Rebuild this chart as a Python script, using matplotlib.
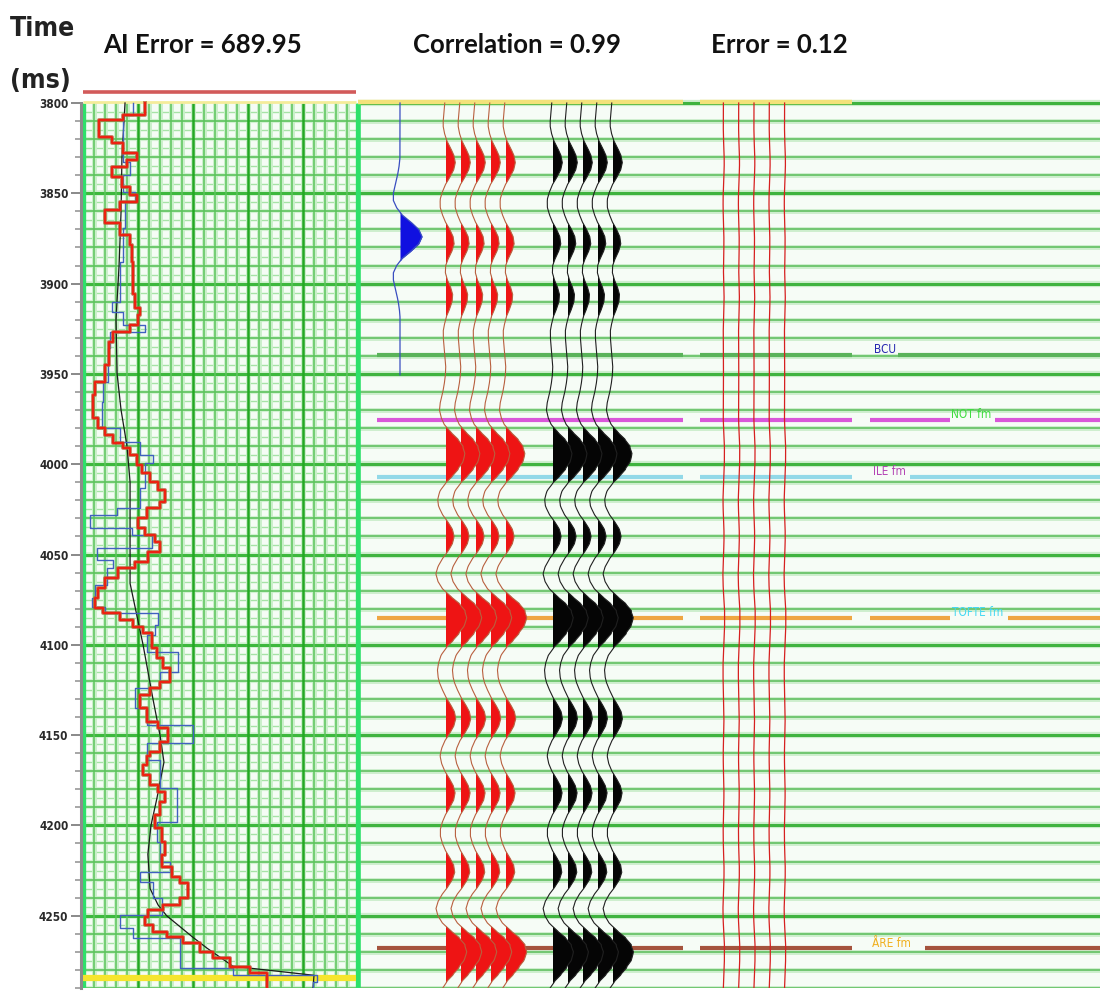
import numpy as np
import matplotlib
matplotlib.use("Agg")
import matplotlib.pyplot as plt
from matplotlib.ticker import FixedLocator, NullFormatter
from matplotlib import font_manager as fm

# ---------------- data ----------------
time_major_ticks = [3800, 3850, 3900, 3950, 4000, 4050, 4100, 4150, 4200, 4250]
header_texts = ["AI Error = 689.95", "Correlation = 0.99", "Error = 0.12"]

# inverted acoustic impedance (red, stepped): step top time (ms), value
ai_red_t = [3800, 3806.6, 3809.4, 3818.6, 3822.3, 3827.9, 3831.6, 3835.3, 3840.8, 3846.3,
            3850.9, 3854.6, 3859.2, 3866.6, 3873.1, 3878.6, 3887.9, 3906, 3913.5, 3917.4,
            3922.9, 3926.6, 3932.2, 3945.1, 3954.3, 3961.7, 3974.6, 3980.1, 3983.8, 3988.4,
            3991.2, 3994.9, 4000.4, 4005, 4009.7, 4014.3, 4020.8, 4024.4, 4030, 4035.5,
            4039.2, 4042.9, 4048.4, 4054, 4057.6, 4063.2, 4068.7, 4074.3, 4079.8, 4082.6,
            4086.3, 4089.9, 4093.6, 4101.9, 4107.5, 4113, 4120.4, 4124.1, 4127.8, 4135.2,
            4142.6, 4146.3, 4153.6, 4159.2, 4161.5, 4166.4, 4172.1, 4177.6, 4181.3, 4186.9,
            4194.2, 4201.6, 4209, 4216.4, 4222.9, 4228.4, 4232.1, 4240.4, 4244.1, 4246.8,
            4250.6, 4255.1, 4258.8, 4261.6, 4265.3, 4269.9, 4273.6, 4278.2, 4281.9, 4291]
ai_red_v = [4820, 3820, 2730, 3320, 3820, 4450, 4000, 3320, 3770, 4140,
            4450, 3680, 3000, 3680, 4140, 4230, 4270, 4360, 4590, 4500,
            4140, 3360, 3180, 3000, 2550, 2450, 2680, 3000, 3360, 3820,
            4140, 4450, 4680, 5050, 5410, 5730, 5500, 4910, 4500, 4820,
            5270, 5500, 4950, 4360, 3590, 3000, 2680, 2550, 2910, 3680,
            4270, 4730, 5140, 5360, 5640, 5950, 5500, 5050, 4590, 4910,
            5410, 5860, 5500, 5050, 4910, 4730, 5050, 5410, 5730, 5500,
            5270, 5590, 5730, 5590, 6050, 6410, 6770, 6410, 5640, 4950,
            4820, 5180, 5820, 6550, 7320, 7910, 8680, 9590, 10360, 10360]

# well-log impedance (blue, stepped)
ai_blue_t = [3800, 3806.6, 3832.5, 3839.9, 3849.1, 3854.6, 3869.4, 3887.9, 3910, 3915.5,
             3922.9, 3926.6, 3935.8, 3954.3, 3965.4, 3980.1, 3987.5, 3994.9, 3999.5, 4013.4,
             4024.4, 4028.1, 4035.5, 4039.2, 4046.6, 4053, 4057.6, 4066.9, 4074.3, 4078.9,
             4082.6, 4089, 4094.6, 4103.8, 4114.9, 4124.1, 4135.2, 4144.4, 4154.5, 4163.8,
             4179.5, 4197.9, 4209, 4220.1, 4225.6, 4231.1, 4240.4, 4249.6, 4257, 4262.5,
             4279.1, 4282.9, 4286.6, 4291]
ai_blue_v = [4270, 3820, 4140, 3820, 4360, 3910, 3820, 3680, 3320, 3800,
             4820, 3230, 3140, 2910, 2860, 3680, 4590, 5180, 4820, 4590,
             3550, 2320, 4230, 5140, 2640, 3360, 3090, 2550, 2410, 3000,
             5410, 5270, 4910, 6320, 5500, 4360, 4910, 7000, 4910, 5500,
             6270, 5360, 5500, 5950, 4590, 5180, 5590, 3680, 4270, 6410,
             8820, 12640, 12450, 12450]

# low-frequency model (black)
ai_model_t = [3800, 3830, 3860, 3890, 3920, 3950, 3970, 3990, 4010, 4066, 4100, 4130,
              4150, 4165, 4185, 4200, 4216, 4235, 4244, 4250, 4256, 4262, 4268, 4278,
              4283, 4291]
ai_model_v = [3910, 3770, 3730, 3640, 3500, 3550, 3730, 4000, 4140, 4140, 4730, 5180,
              5500, 5680, 5360, 5090, 4950, 5050, 5410, 5800, 6400, 7000, 7640, 8820,
              12500, 12450]

# extracted wavelet (zero phase), lag in ms
wavelet_lag = list(range(-44, 45, 4))
wavelet_amp = [0.0, -0.03, -0.08, -0.15, -0.23, -0.3, -0.3, -0.15, 0.1, 0.5, 0.85, 1.0,
               0.85, 0.5, 0.1, -0.15, -0.3, -0.3, -0.23, -0.15, -0.08, -0.03, 0.0]
wavelet_center = 3874

# reflection events
event_t = [3833, 3878, 3906, 3990, 4003, 4040, 4081, 4094, 4141, 4182, 4226, 4266, 4279]
synthetic_amp = [0.62, 0.68, 0.6, 1.1, 0.8, 0.62, 1.25, 0.8, 0.66, 0.62, 0.62, 1.25, 0.8]
seismic_amp = [0.62, 0.65, 0.58, 1.1, 0.82, 0.62, 1.2, 0.82, 0.64, 0.62, 0.62, 1.2, 0.85]
residual_amp = [0.05, 0.04, 0.05, 0.06, 0.04, 0.04, 0.07, 0.05, 0.03, 0.03, 0.04, 0.06, 0.04]

horizon_names = ["BCU", "NOT fm", "ILE fm", "TOFTE fm", "ÅRE fm"]
horizon_times = [3939.5, 3975.5, 4007, 4085, 4268]

# ---------------- fonts ----------------
def pick_narrow():
    cands = [("DejaVu Sans", "condensed", "Condensed"),
             ("Liberation Sans Narrow", "normal", "Narrow"),
             ("Roboto Condensed", "normal", "Condensed"),
             ("Open Sans Condensed", "normal", "Condensed")]
    for fam, stretch, key in cands:
        try:
            p = fm.findfont(fm.FontProperties(family=fam, stretch=stretch, weight="bold"),
                            fallback_to_default=False)
            if key in p:
                return fam, stretch
        except Exception:
            pass
    return "Roboto", "normal"

NFAM, NSTRETCH = pick_narrow()
NARROW = [NFAM, "DejaVu Sans"]

# ---------------- layout ----------------
W, H = 1100, 991
fig = plt.figure(figsize=(W / 100, H / 100), dpi=100)
top_px, bot_px = 85, 988
T_TOP = 3800 - (103 - top_px) / 1.806
T_BOT = T_TOP + (bot_px - top_px) / 1.806

def axes_rect(x0, x1):
    return [x0 / W, 1 - bot_px / H, (x1 - x0) / W, (bot_px - top_px) / H]

axL = fig.add_axes(axes_rect(83, 358))
axR = fig.add_axes(axes_rect(358, 1100))
XR = (1100 - 358) / 15.0  # right panel units (1 unit = trace spacing)

def ux(px):
    return (px - 358) / 15.0

# ---------------- left panel ----------------
AI_MIN, AI_MAX = 2000, 14500
axL.set_xlim(AI_MIN, AI_MAX)
axL.set_ylim(T_BOT, T_TOP)
axL.axhspan(3800, T_BOT, color="#f5fcf5", zorder=0)

for t in np.arange(3805, 4291, 10):
    axL.hlines(t, AI_MIN, AI_MAX, color="#a6e3a6", lw=1.0, zorder=1)
for t in np.arange(3810, 4291, 10):
    heavy = (t % 50 == 0)
    axL.hlines(t, AI_MIN, AI_MAX, color="#d2f2d2", lw=4 if heavy else 3, zorder=1)
    axL.hlines(t, AI_MIN, AI_MAX, color="#3db83d" if heavy else "#5cc25c",
               lw=2.2 if heavy else 1.2, zorder=1.1)
for i, a in enumerate(np.arange(AI_MIN, AI_MAX + 1, 500)):
    if i in (0, 25):
        continue
    heavy = (i % 5 == 0)
    axL.vlines(a, 3800, T_BOT, color="#c9efc9", lw=3.5, zorder=1)
    axL.vlines(a, 3800, T_BOT, color="#23a823" if heavy else "#5cc45c",
               lw=1.8 if heavy else 1.1, zorder=1.2)
axL.vlines([AI_MIN + 60, AI_MAX - 60], 3800, T_BOT, color="#2ee06a", lw=2.4, zorder=1.3)

axL.hlines(3794, AI_MIN, AI_MAX - 100, color="#d25a5a", lw=2.6, zorder=2)
axL.hlines(3799.5, AI_MIN, AI_MAX - 100, color="#f4ec9a", lw=2.0, zorder=1.4)
axL.hlines(4284.5, AI_MIN, AI_MAX - 100, color="#f5e52e", lw=4.5, zorder=2)

axL.plot(ai_model_v, ai_model_t, color="#1a1a1a", lw=0.9, zorder=3)
axL.plot(ai_blue_v, ai_blue_t, drawstyle="steps-pre", color="#4060c0", lw=1.0, zorder=3.5)
axL.plot(ai_red_v, ai_red_t, drawstyle="steps-pre", color="#b85a35", lw=2.8, alpha=0.75, zorder=4)
axL.plot(ai_red_v, ai_red_t, drawstyle="steps-pre", color="#ee2010", lw=1.4, zorder=4.1)

for s in ("top", "right", "bottom"):
    axL.spines[s].set_visible(False)
axL.spines["left"].set_position(("outward", 1.5))
axL.spines["left"].set_color("#8c8c8c")
axL.spines["left"].set_linewidth(2.2)
axL.spines["left"].set_bounds(3800, T_BOT)
axL.set_xticks([])
axL.yaxis.set_major_locator(FixedLocator(time_major_ticks))
axL.yaxis.set_minor_locator(FixedLocator(np.arange(3810, 4291, 10)))
axL.yaxis.set_minor_formatter(NullFormatter())
axL.tick_params(axis="y", which="major", length=7, width=1.3, color="#808080", pad=2)
axL.tick_params(axis="y", which="minor", length=4, width=1.1, color="#909090")
for lab in axL.get_yticklabels():
    lab.set_fontfamily(NARROW)
    lab.set_fontstretch(NSTRETCH)
    lab.set_fontweight("bold")
    lab.set_fontsize(8.5)
    lab.set_color("#2a2a2a")

# ---------------- right panel ----------------
axR.set_xlim(0, XR)
axR.set_ylim(T_BOT, T_TOP)
axR.set_axis_off()
axR.axhspan(3800, T_BOT, color="#f6fcf6", zorder=0)
for t in np.arange(3800, 4291, 10):
    heavy = (t % 50 == 0)
    axR.hlines(t, 0, XR, color="#cdeecd", lw=4.5 if heavy else 3.5, zorder=1)
    axR.hlines(t, 0, XR, color="#3fb33f" if heavy else "#62c062",
               lw=2.2 if heavy else 1.2, zorder=1.1)
axR.vlines(0.05, 3800, T_BOT, color="#2ee06a", lw=2.6, zorder=1.3)

# top horizon
for a, b in [(358, 683), (700, 852)]:
    axR.hlines(3799.5, ux(a), ux(b), color="#f3e27a", lw=3.2, zorder=2)

horizon_style = {
    "BCU": dict(line="#5ab35a", text="#2626b0", segs=[(377, 683), (700, 852), (898, 1100)], lab=874),
    "NOT fm": dict(line="#d957d9", text="#3fdc3f", segs=[(377, 683), (700, 852), (870, 950), (995, 1100)], lab=951),
    "ILE fm": dict(line="#92d9e8", text="#b445b4", segs=[(377, 683), (700, 852), (910, 1100)], lab=873),
    "TOFTE fm": dict(line="#efa642", text="#44d8f2", segs=[(377, 683), (700, 852), (870, 950), (1008, 1100)], lab=952),
    "ÅRE fm": dict(line="#a4533d", text="#f0b020", segs=[(377, 683), (700, 852), (925, 1100)], lab=872),
}
for name, t in zip(horizon_names, horizon_times):
    st = horizon_style[name]
    for a, b in st["segs"]:
        axR.hlines(t, ux(a), ux(b), color=st["line"], lw=3.0, zorder=2)
    axR.text(ux(st["lab"]), t + 0.8, name, color=st["text"], fontsize=8.5,
             fontfamily=NARROW, fontstretch=NSTRETCH, ha="left", va="bottom", zorder=6)

# traces
tt = np.arange(3800, 4291, 0.5)
lag_fine = np.arange(-44, 44.5, 0.5)
w_fine = np.interp(lag_fine, wavelet_lag, wavelet_amp)

def make_trace(amps):
    tr = np.zeros_like(tt)
    for te, a in zip(event_t, amps):
        tr += a * np.interp(tt - te, lag_fine, w_fine, left=0, right=0)
    return tr

# wavelet
tw = np.arange(3800, 3951, 0.5)
wv = 1.47 * np.interp(tw - wavelet_center, lag_fine, w_fine, left=0, right=0)
xw = ux(400)
axR.fill_betweenx(tw, xw, xw + wv, where=wv > 0, color="#1010e0", lw=0, interpolate=True, zorder=4)
axR.plot(xw + wv, tw, color="#3a4ec0", lw=0.9, zorder=5)

syn = make_trace(synthetic_amp)
seis = make_trace(seismic_amp)
res = make_trace(residual_amp)
synth_x = [ux(446) + i for i in range(5)]
seis_x = [ux(553) + i for i in range(5)]
res_x = [ux(723.5) + i * 1.02 for i in range(5)]
for b in synth_x:
    axR.fill_betweenx(tt, b, b + syn, where=syn > 0, color="#ee1414", lw=0, interpolate=True, zorder=4)
    axR.plot(b + syn, tt, color="#b8603f", lw=0.8, zorder=5)
for b in seis_x:
    axR.fill_betweenx(tt, b, b + seis, where=seis > 0, color="#050505", lw=0, interpolate=True, zorder=4)
    axR.plot(b + seis, tt, color="#202020", lw=0.8, zorder=5)
for b in res_x:
    axR.plot(b + res, tt, color="#d62020", lw=0.9, zorder=5)

# ---------------- header text ----------------
fig.text(10 / W, 1 - 36 / H, "Time", fontsize=19, fontweight="bold",
         fontfamily=NARROW, fontstretch=NSTRETCH, ha="left", va="baseline", color="#222222")
fig.text(10 / W, 1 - 88 / H, "(ms)", fontsize=19, fontweight="bold",
         fontfamily=NARROW, fontstretch=NSTRETCH, ha="left", va="baseline", color="#222222")
for txt, x0 in zip(header_texts, [103, 413, 711]):
    fig.text(x0 / W, 1 - 53 / H, txt, fontsize=18.5, fontweight="bold",
             fontfamily=["Lato", "DejaVu Sans"], ha="left", va="baseline", color="#111111")

fig.savefig("out.png", dpi=100)
